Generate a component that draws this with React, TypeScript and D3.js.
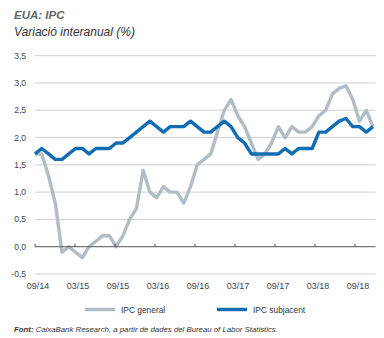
import React from "react";
import * as d3 from "d3";

const months: string[] = [
  "09/14","10/14","11/14","12/14",
  "01/15","02/15","03/15","04/15","05/15","06/15","07/15","08/15","09/15","10/15","11/15","12/15",
  "01/16","02/16","03/16","04/16","05/16","06/16","07/16","08/16","09/16","10/16","11/16","12/16",
  "01/17","02/17","03/17","04/17","05/17","06/17","07/17","08/17","09/17","10/17","11/17","12/17",
  "01/18","02/18","03/18","04/18","05/18","06/18","07/18","08/18","09/18","10/18","11/18",
];

const ipcGeneral: number[] = [
  1.7, 1.7, 1.3, 0.8,
  -0.1, 0.0, -0.1, -0.2, 0.0, 0.1, 0.2, 0.2, 0.0, 0.2, 0.5, 0.7,
  1.4, 1.0, 0.9, 1.1, 1.0, 1.0, 0.8, 1.1, 1.5, 1.6, 1.7, 2.1,
  2.5, 2.7, 2.4, 2.2, 1.9, 1.6, 1.7, 1.9, 2.2, 2.0, 2.2, 2.1,
  2.1, 2.2, 2.4, 2.5, 2.8, 2.9, 2.95, 2.7, 2.3, 2.5, 2.2,
];

const ipcSubjacent: number[] = [
  1.7, 1.8, 1.7, 1.6,
  1.6, 1.7, 1.8, 1.8, 1.7, 1.8, 1.8, 1.8, 1.9, 1.9, 2.0, 2.1,
  2.2, 2.3, 2.2, 2.1, 2.2, 2.2, 2.2, 2.3, 2.2, 2.1, 2.1, 2.2,
  2.3, 2.2, 2.0, 1.9, 1.7, 1.7, 1.7, 1.7, 1.7, 1.8, 1.7, 1.8,
  1.8, 1.8, 2.1, 2.1, 2.2, 2.3, 2.35, 2.2, 2.2, 2.1, 2.2,
];

const yTicks: number[] = [-0.5, 0, 0.5, 1, 1.5, 2, 2.5, 3, 3.5];
const xTickLabels: string[] = ["09/14","03/15","09/15","03/16","09/16","03/17","09/17","03/18","09/18"];

const seriesNames = ["IPC general", "IPC subjacent"];
const seriesColors = ["#b1bdc5", "#106db4"];

export default function App() {
  const W = 384, H = 338;
  const left = 35, right = 375.5;
  const x = d3.scaleLinear().domain([0, months.length - 1]).range([35, 373]);
  const xAxis = d3.scaleLinear().domain([0, 48]).range([35, 355]);
  const y = d3.scaleLinear().domain([-0.5, 3.5]).range([274, 55.7]);
  const fmt = (v: number) => d3.format(".1f")(v).replace(".", ",").replace("−", "-");

  const line = d3.line<number>().x((_, i) => x(i)).y((d) => y(d)).curve(d3.curveLinear);
  const tickIdx = xTickLabels.map((_, i) => i * 6);
  const font = "'Liberation Sans', Arial, sans-serif";

  return (
    <svg width={W} height={H} style={{ position: "absolute", left: 0, top: 0, background: "#fff" }} fontFamily={font}>
      <text x={14} y={19} fontSize={11.5} fontWeight="bold" fontStyle="italic" fill="#666">EUA: IPC</text>
      <text x={14} y={36} fontSize={12} fontStyle="italic" fill="#333">Variació interanual (%)</text>

      {yTicks.map((t) => (
        <g key={t}>
          {t !== 0 && (
            <line x1={left} x2={right} y1={y(t)} y2={y(t)} stroke="#cfcfcf" strokeWidth={1} />
          )}
          <text x={26} y={y(t)} dy="0.35em" textAnchor="end" fontSize={8.5} fill="#444">{fmt(t)}</text>
        </g>
      ))}

      <path d={line(ipcGeneral) || ""} fill="none" stroke={seriesColors[0]} strokeWidth={3.4} strokeLinejoin="round" />
      <path d={line(ipcSubjacent) || ""} fill="none" stroke={seriesColors[1]} strokeWidth={3.4} strokeLinejoin="round" />

      <line x1={left} x2={right} y1={y(0)} y2={y(0)} stroke="#555" strokeWidth={1} />
      {tickIdx.map((ti, i) => (
        <g key={ti}>
          <line x1={xAxis(ti)} x2={xAxis(ti)} y1={y(0)} y2={y(0) - 3} stroke="#555" strokeWidth={1} />
          <text x={xAxis(ti) + 3} y={289} textAnchor="middle" fontSize={9} fill="#444">{xTickLabels[i]}</text>
        </g>
      ))}

      {seriesNames.map((n, i) => (
        <g key={n}>
          <line x1={85 + i * 132} x2={115 + i * 132} y1={309.5} y2={309.5} stroke={seriesColors[i]} strokeWidth={3.4} />
          <text x={121 + i * 132} y={312.5} fontSize={8.4} fill="#333">{n}</text>
        </g>
      ))}

      <text x={14} y={332} fontSize={7.8} fontStyle="italic" fill="#333">
        <tspan fontWeight="bold">Font:</tspan> CaixaBank Research, a partir de dades del Bureau of Labor Statistics.
      </text>
    </svg>
  );
}
